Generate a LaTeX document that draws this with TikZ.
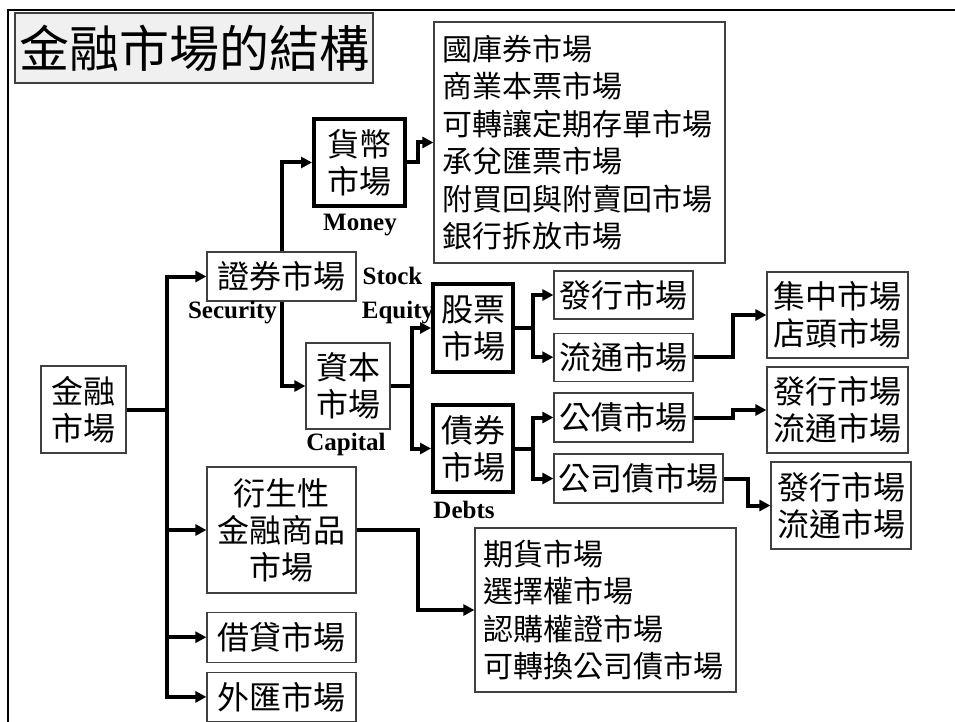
\documentclass[tikz,border=0pt]{standalone}
\usepackage{fontspec}
\setmainfont{Liberation Serif}
\newfontfamily\cjk{Noto Sans CJK TC}
\usetikzlibrary{arrows.meta, positioning}
\tikzstyle{box} = [rectangle, draw=black!75, line width=1.2pt, inner sep=0pt, align=center, font=\cjk\fontsize{32}{37}\selectfont]
\tikzstyle{thickbox} = [box, draw=black, line width=4pt]
\tikzstyle{listbox} = [box, align=left, inner xsep=8pt, font=\cjk\fontsize{30}{37.5}\selectfont]
\tikzstyle{titlebox} = [box, fill=gray!12, font=\cjk\fontsize{50}{55}\selectfont]
\tikzstyle{engtag} = [inner sep=0pt, anchor=base, font=\bfseries\fontsize{25}{30}\selectfont]
\tikzstyle{arrow} = [line width=4pt, -{Triangle[length=11pt, width=11pt]}]

\begin{document}
\begin{tikzpicture}[x=1pt, y=-1pt, node distance=12pt]
		\useasboundingbox (0,0) rectangle (955,722);
		\draw [line width=2.5pt] (8,722) -- (8,10) -- (955,10);

		\node (title) [titlebox, minimum width=358pt, minimum height=70pt] at (194,48) {金融市場的結構};

		\node (fin) [box, minimum width=85pt, minimum height=87pt] at (83.5,409.5) {金融\\市場};
		\node (sec) [box, minimum width=149pt, minimum height=49pt] at (281.5,276.5) {證券市場};
		\node (money) [thickbox, minimum width=91pt, minimum height=87pt] at (359.5,162.5) {貨幣\\市場};
		\node (mmlist) [listbox, text width=275pt, minimum height=241pt] at (579.5,142.5) {國庫券市場\\商業本票市場\\可轉讓定期存單市場\\承兌匯票市場\\附買回與附賣回市場\\銀行拆放市場};
		\node (cap) [box, minimum width=84pt, minimum height=86pt] at (348,386) {資本\\市場};
		\node (stock) [thickbox, minimum width=80pt, minimum height=88pt] at (473,328) {股票\\市場};
		\node (bond) [thickbox, minimum width=80pt, minimum height=87pt] at (473,448.5) {債券\\市場};
		\node (iss) [box, minimum width=139pt, minimum height=48pt] at (623.5,295) {發行市場};
		\node (circ) [box, minimum width=139pt, minimum height=48pt, below=13pt of iss] {流通市場};
		\node (gov) [box, minimum width=139pt, minimum height=49pt] at (623.5,417.5) {公債市場};
		\node (corp) [box, minimum width=169pt, minimum height=49pt] at (638.5,478.5) {公司債市場};
		\node (exch) [box, minimum width=141pt, minimum height=86pt] at (837.5,315) {集中市場\\店頭市場};
		\node (govsub) [box, minimum width=141pt, minimum height=86pt] at (837.5,410) {發行市場\\流通市場};
		\node (corpsub) [box, minimum width=140pt, minimum height=87pt] at (841,505.5) {發行市場\\流通市場};
		\node (deriv) [box, minimum width=149pt, minimum height=126pt] at (281.5,530) {衍生性\\金融商品\\市場};
		\node (loan) [box, minimum width=149pt, minimum height=50pt, below=18pt of deriv] {借貸市場};
		\node (fx) [box, minimum width=149pt, minimum height=49pt, below=9pt of loan] {外匯市場};
		\node (dlist) [listbox, text width=245pt, minimum height=164pt] at (605.5,610) {期貨市場\\選擇權市場\\認購權證市場\\可轉換公司債市場};

		% english tags
		\node (moneytag) [engtag] at (360,230) {Money};
		\node (sectag) [engtag] at (232.5,318) {Security};
		\node (stocktag) [engtag] at (392.5,284) {Stock};
		\node (equitytag) [engtag] at (398,318) {Equity};
		\node (captag) [engtag] at (346,450) {Capital};
		\node (debttag) [engtag] at (464,518) {Debts};

		\draw [arrow] (fin.east) -- ++(40,0) |- (sec.west);
		\draw [arrow] (fin.east) -- ++(40,0) |- (deriv.west);
		\draw [arrow] (fin.east) -- ++(40,0) |- (loan.west);
		\draw [arrow] (fin.east) -- ++(40,0) |- (fx.west);
		\draw [arrow] (sec.north) |- (money.west);
		\draw [arrow] (sec.south) |- (cap.west);
		\draw [arrow] (money.east) -- ++(11,0) |- (mmlist.west);
		\draw [arrow] (cap.east) -- ++(21,0) |- (stock.west);
		\draw [arrow] (cap.east) -- ++(21,0) |- (bond.west);
		\draw [arrow] (stock.east) -- ++(18,0) |- (iss.west);
		\draw [arrow] (stock.east) -- ++(18,0) |- (circ.west);
		\draw [arrow] (bond.east) -- ++(18,0) |- (gov.west);
		\draw [arrow] (bond.east) -- ++(18,0) |- (corp.west);
		\draw [arrow] (circ.east) -- ++(39,0) |- (exch.west);
		\draw [arrow] (gov.east) -- ++(39,0) |- (govsub.west);
		\draw [arrow] (corp.east) -- ++(24,0) |- (corpsub.west);
		\draw [arrow] (deriv.east) -- ++(61,0) |- (dlist.west);
\end{tikzpicture}
\end{document}
